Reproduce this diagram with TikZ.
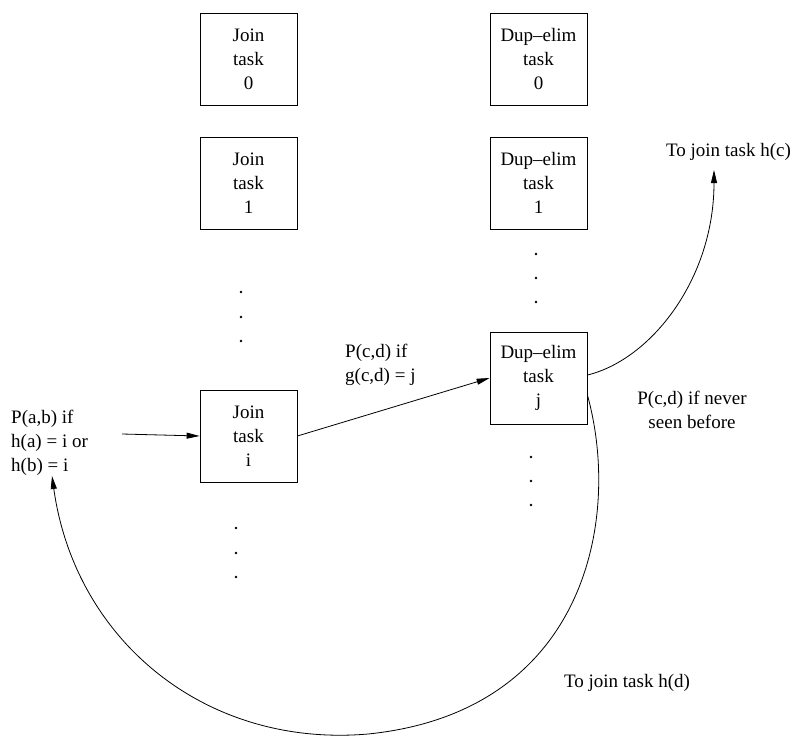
\documentclass[tikz,border=0pt]{standalone}
\usepackage{fontspec}
\setmainfont{Liberation Serif}
\usetikzlibrary{arrows.meta}
\begin{document}
\begin{tikzpicture}[x=1pt,y=-1pt, font=\fontsize{19}{24}\selectfont,
  taskbox/.style={draw, line width=0.8pt, minimum width=97pt, minimum height=92pt, align=center, inner sep=0pt},
  lbl/.style={inner sep=0pt},
  conn/.style={line width=0.8pt, -{Triangle[length=13pt,width=6pt]}},
  dotmark/.style={circle, fill, inner sep=0pt, minimum size=2.8pt}]
\useasboundingbox (0,0) rectangle (794,736);
% boxes
\node[taskbox] (j0) at (248.5,59) {Join\\task\\0};
\node[taskbox] (j1) at (248.5,183) {Join\\task\\1};
\node[taskbox] (ji) at (248.5,436) {Join\\task\\i};
\node[taskbox] (d0) at (538.5,59) {Dup--elim\\task\\0};
\node[taskbox] (d1) at (538.5,183) {Dup--elim\\task\\1};
\node[taskbox] (dj) at (538.5,378) {Dup--elim\\task\\j};
% dots
\node[dotmark] (ja1) at (241,292) {};
\node[dotmark] (ja2) at (241,317) {};
\node[dotmark] (ja3) at (241,341) {};
\node[dotmark] (jb1) at (236,528) {};
\node[dotmark] (jb2) at (236,553) {};
\node[dotmark] (jb3) at (236,577) {};
\node[dotmark] (da1) at (536,254) {};
\node[dotmark] (da2) at (536,278) {};
\node[dotmark] (da3) at (536,302) {};
\node[dotmark] (db1) at (531,457) {};
\node[dotmark] (db2) at (531,481) {};
\node[dotmark] (db3) at (531,505) {};
% labels
\node[lbl, anchor=west, align=left] (pab) at (11,443) {P(a,b) if\\h(a) = i or\\h(b) = i};
\node[lbl, anchor=west, align=left] (pcd) at (345,365) {P(c,d) if\\g(c,d) = j};
\node[lbl, align=center] (never) at (692,410) {P(c,d) if never\\seen before};
\node[lbl] (hc) at (728.5,152) {To join task h(c)};
\node[lbl] (hd) at (627,683) {To join task h(d)};
% connectors
\coordinate (src) at (122,434);
\coordinate (hcend) at (714,170);
\coordinate (hdend) at (52,476);
\coordinate (bot) at (368,734);
\draw[conn] (src) -- (ji.west);
\draw[conn] (ji.east) -- (dj.west);
\draw[conn] ([yshift=3pt]dj.east) .. controls (650,360) and (714,280) .. (hcend);
\draw[conn] ([yshift=-17pt]dj.east) .. controls (622,520) and (585,712) .. (bot)
  .. controls (205,748) and (75,640) .. (hdend);
\end{tikzpicture}
\end{document}
